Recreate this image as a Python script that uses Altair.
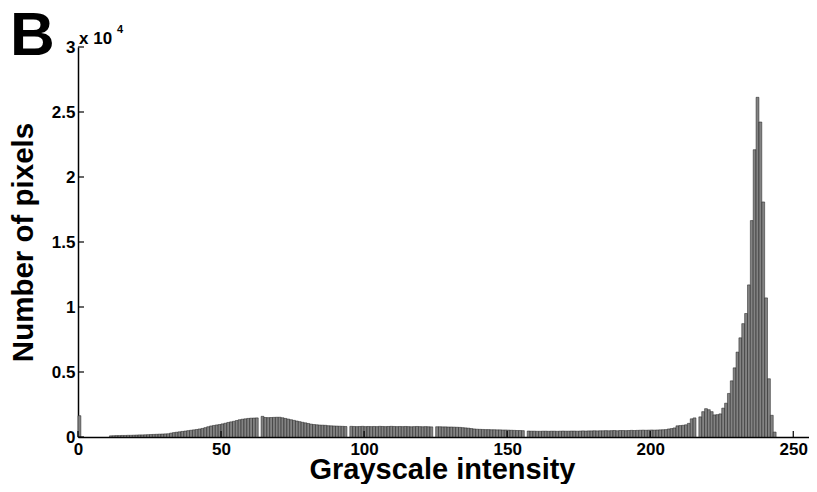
import altair as alt
import pandas as pd

# Histogram: grayscale intensity (0..255) vs number of pixels
intensity = list(range(256))
pixel_counts = [
    1640, 0, 0, 0, 0, 0, 0, 0, 0, 0, 0,
    90, 100, 110, 110, 120, 120, 130, 130, 140,
    150, 160, 160, 170, 180, 190, 200, 210, 220, 230, 240, 250,
    300, 340, 370, 400, 430, 460, 490, 520, 550, 580, 620,
    660, 720, 790, 850, 890, 930, 960, 1010, 1060, 1120,
    1165, 1210, 1270, 1330, 1370, 1400, 1430, 1450, 1460, 1470,
    0,
    1590, 1500, 1490, 1500, 1510, 1520, 1520, 1480, 1430, 1380,
    1330, 1280, 1230, 1180, 1130, 1090, 1040, 990, 960, 940,
    920, 910, 900, 870, 860, 850, 840, 830, 820, 810,
    0,
    820, 810, 800, 810, 820, 800, 810, 800, 810, 800,
    820, 810, 800, 810, 820, 810, 800, 810, 800, 810,
    800, 790, 800, 810, 800, 790, 800, 790, 780,
    0,
    790, 790, 780, 780, 770, 770, 760, 750, 740, 720,
    700, 680, 650, 620, 600, 590, 580, 570, 570, 560,
    560, 550, 550, 540, 540, 530, 520, 510, 500, 500, 490,
    0,
    460, 450, 450, 440, 440, 450, 450, 440, 450, 450,
    440, 450, 460, 450, 450, 460, 460, 450, 460, 470,
    460, 470, 470, 480, 470, 480, 480, 490, 480, 490, 500,
    480, 500, 500, 490, 500, 510, 500, 510,
    520, 530, 520, 530, 540, 530, 540, 550, 560, 570,
    620, 650, 700,
    860, 880, 900, 940, 1050,
    1400, 1470,
    0,
    1550, 1950, 2180, 2100, 1950, 1700, 1720, 1780, 2220, 2600,
    3350, 4320, 5320, 6530, 7630, 8720, 9500, 11700, 16650, 22100,
    26130, 24230, 18080, 10700, 4480, 1670, 380,
    0, 0, 0, 0, 0, 0, 0, 0, 0, 0, 0, 0,
]
x_ticks = [0, 50, 100, 150, 200, 250]
y_ticks = [0, 5000, 10000, 15000, 20000, 25000, 30000]

panel_label = ["B"]
exponent_base = ["x 10"]
exponent_power = ["4"]

df = pd.DataFrame({"intensity": intensity, "count": pixel_counts})
df["intensity_end"] = df["intensity"] + 1
df = df[df["count"] > 0]

FONT = "Liberation Sans"
W, H = 731, 390

xscale = alt.Scale(domain=[0, 255.5], nice=False, zero=False)
yscale = alt.Scale(domain=[0, 30000], nice=False)

x_axis = alt.Axis(
    values=x_ticks, ticks=False, grid=False,
    domainColor="black", domainWidth=1.5,
    labelFont=FONT, labelFontSize=17, labelFontWeight="bold", labelColor="black",
    labelPadding=4, labelFlush=False, labelOverlap=False,
    title="Grayscale intensity", titleFont=FONT, titleFontSize=29,
    titleFontWeight="bold", titleColor="black",
    titleX=364, titleY=41, titleBaseline="alphabetic", titleAlign="center",
)
y_axis = alt.Axis(
    values=y_ticks, labelExpr="datum.value / 10000", ticks=False, grid=False,
    domainColor="black", domainWidth=1.5,
    labelFont=FONT, labelFontSize=17, labelFontWeight="bold", labelColor="black",
    labelPadding=3, labelFlush=False, labelOverlap=False,
    title="Number of pixels", titleFont=FONT, titleFontSize=29.5,
    titleFontWeight="bold", titleColor="black",
    titleX=-46, titleY=195, titleAngle=270, titleBaseline="alphabetic", titleAlign="center",
)

bars = alt.Chart(df).mark_bar(fill="#838383", stroke="#1a1a1a", strokeWidth=0.5).encode(
    x=alt.X("intensity:Q", scale=xscale, axis=x_axis),
    x2="intensity_end:Q",
    y=alt.Y("count:Q", scale=yscale, axis=y_axis),
    y2=alt.datum(0),
)

xt = pd.DataFrame({"intensity": x_ticks})
x_tick_marks = alt.Chart(xt).mark_rule(color="black", strokeWidth=1.2).encode(
    x=alt.X("intensity:Q", scale=xscale),
    y=alt.value(H),
    y2=alt.value(H - 6),
)

yt = pd.DataFrame({"count": y_ticks})
y_tick_marks = alt.Chart(yt).mark_rule(color="black", strokeWidth=1.2).encode(
    y=alt.Y("count:Q", scale=yscale),
    x=alt.value(0),
    x2=alt.value(6),
)

b_text = alt.Chart(pd.DataFrame({"t": panel_label})).mark_text(
    font=FONT, fontSize=62, fontWeight="bold", align="left", baseline="alphabetic", color="black"
).encode(x=alt.value(-68), y=alt.value(8), text="t:N")

exp_text = alt.Chart(pd.DataFrame({"t": exponent_base})).mark_text(
    font=FONT, fontSize=17, fontWeight="bold", align="left", baseline="alphabetic", color="black"
).encode(x=alt.value(1), y=alt.value(-3), text="t:N")

pow_text = alt.Chart(pd.DataFrame({"t": exponent_power})).mark_text(
    font=FONT, fontSize=11, fontWeight="bold", align="left", baseline="alphabetic", color="black"
).encode(x=alt.value(39), y=alt.value(-14), text="t:N")

chart = alt.layer(bars, x_tick_marks, y_tick_marks, b_text, exp_text, pow_text).properties(
    width=W, height=H,
    padding={"left": 70, "top": 39, "right": 0, "bottom": 47},
    autosize=alt.AutoSizeParams(type="none"),
).configure_view(stroke=None)

chart.save("out.html", embed_options={"renderer": "svg", "actions": False})
